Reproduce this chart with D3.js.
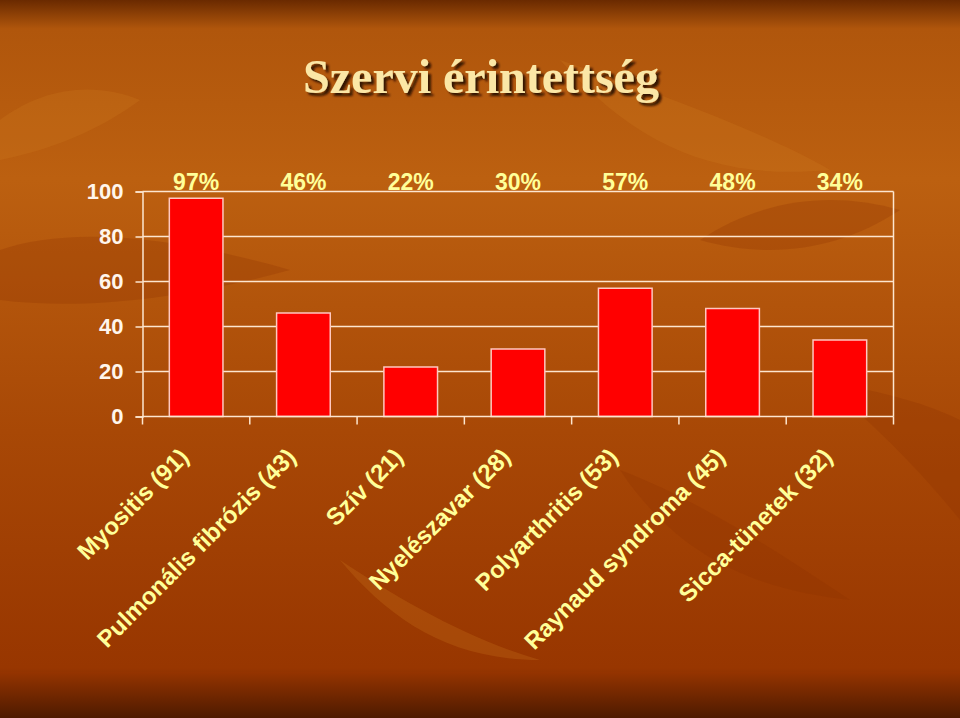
<!DOCTYPE html>
<html>
<head>
<meta charset="utf-8">
<script src="https://cdn.jsdelivr.net/npm/d3@7"></script>
<style>
  html, body { margin: 0; padding: 0; background: #a84400; }
  svg { display: block; }
</style>
</head>
<body>
<svg id="chart" width="960" height="718"></svg>
<script>
// data
var categories = ["Myositis (91)", "Pulmonális fibrózis (43)", "Szív (21)",
                  "Nyelészavar (28)", "Polyarthritis (53)",
                  "Raynaud syndroma (45)", "Sicca-tünetek (32)"];
var values = [97, 46, 22, 30, 57, 48, 34];
var percentLabels = ["97%", "46%", "22%", "30%", "57%", "48%", "34%"];
var yTicks = [0, 20, 40, 60, 80, 100];
var title = "Szervi érintettség";

var svg = d3.select("#chart");
var W = 960, H = 718;
var margin = {top: 191.5, right: 66.5, bottom: 301.5, left: 142.5};
var width = W - margin.left - margin.right;
var height = H - margin.top - margin.bottom;

// background
var defs = svg.append("defs");
var bg = defs.append("linearGradient").attr("id", "bg")
    .attr("x1", 0).attr("y1", 0).attr("x2", 0).attr("y2", 1);
bg.append("stop").attr("offset", "0").attr("stop-color", "#6a2a00");
bg.append("stop").attr("offset", "0.04").attr("stop-color", "#b0560c");
bg.append("stop").attr("offset", "0.25").attr("stop-color", "#bc6010");
bg.append("stop").attr("offset", "0.6").attr("stop-color", "#a84806");
bg.append("stop").attr("offset", "0.93").attr("stop-color", "#983600");
bg.append("stop").attr("offset", "1").attr("stop-color", "#5a1e00");
svg.append("rect").attr("width", W).attr("height", H).attr("fill", "url(#bg)");

var bottomBand = defs.append("linearGradient").attr("id", "band")
    .attr("x1", 0).attr("y1", 0).attr("x2", 0).attr("y2", 1);
bottomBand.append("stop").attr("offset", "0").attr("stop-color", "#953400");
bottomBand.append("stop").attr("offset", "1").attr("stop-color", "#4e1a00");
svg.append("rect").attr("y", 672).attr("width", W).attr("height", H - 672)
    .attr("fill", "url(#band)");

// a few soft leaf shapes for the texture
var leaves = [
  "M0,250 C60,230 150,230 290,270 C180,300 80,310 0,300 Z",
  "M560,60 C650,90 760,130 830,170 C720,180 640,150 560,60 Z",
  "M620,470 C700,500 790,560 850,600 C760,590 680,560 620,470 Z",
  "M340,560 C400,600 470,640 540,660 C450,660 390,620 340,560 Z",
  "M820,380 C870,420 920,470 960,520 L960,420 C920,400 870,390 820,380 Z",
  "M0,120 C40,90 90,80 140,100 C100,130 50,150 0,160 Z",
  "M700,240 C760,200 830,190 900,210 C840,250 770,260 700,240 Z"
];
svg.append("g").selectAll("path").data(leaves).enter().append("path")
    .attr("d", function(d) { return d; })
    .attr("fill", function(d, i) { return i % 2 ? "#d07a20" : "#8a3000"; })
    .attr("opacity", 0.25);

// title
var shadow = defs.append("filter").attr("id", "shadow")
    .attr("x", "-10%").attr("y", "-30%").attr("width", "120%").attr("height", "160%");
shadow.append("feDropShadow").attr("dx", 3).attr("dy", 3)
    .attr("stdDeviation", 1).attr("flood-color", "#2a1000").attr("flood-opacity", 0.9);
svg.append("text")
    .attr("x", 481).attr("y", 93)
    .attr("text-anchor", "middle")
    .attr("font-family", "'Liberation Serif', 'Times New Roman', serif")
    .attr("font-weight", "bold")
    .attr("font-size", 48)
    .attr("fill", "#fbe7a6")
    .attr("filter", "url(#shadow)")
    .text(title);

var g = svg.append("g")
    .attr("transform", "translate(" + margin.left + "," + margin.top + ")");

var x = d3.scaleBand().domain(categories).range([0, width]).paddingInner(0.5).paddingOuter(0.25);
var xb = d3.scaleBand().domain(categories).range([0, width]);
var y = d3.scaleLinear().domain([0, 100]).range([height, 0]);

var lineColor = "#fde6cf";

// gridlines
g.append("g").selectAll("line").data(yTicks.slice(1)).enter().append("line")
    .attr("x1", 0).attr("x2", width)
    .attr("y1", function(d) { return y(d); })
    .attr("y2", function(d) { return y(d); })
    .attr("stroke", lineColor).attr("stroke-width", 1.5);
g.append("line").attr("x1", width).attr("x2", width).attr("y1", 0).attr("y2", height)
    .attr("stroke", lineColor).attr("stroke-width", 1.5);

// bars
g.append("g").selectAll("rect").data(values).enter().append("rect")
    .attr("x", function(d, i) { return x(categories[i]); })
    .attr("y", function(d) { return y(d); })
    .attr("width", x.bandwidth())
    .attr("height", function(d) { return height - y(d); })
    .attr("fill", "#ff0000")
    .attr("stroke", "#ffc8c0").attr("stroke-width", 1.5);

// y axis
var yAxis = g.append("g")
    .call(d3.axisLeft(y).tickValues(yTicks).tickSize(7).tickPadding(12));
yAxis.select(".domain").attr("stroke", lineColor).attr("stroke-width", 1.5);
yAxis.selectAll(".tick line").attr("stroke", lineColor).attr("stroke-width", 1.5);
yAxis.selectAll("text")
    .attr("fill", "#fff6ec")
    .attr("font-family", "Arial, 'Liberation Sans', sans-serif")
    .attr("font-weight", "bold")
    .attr("font-size", 22);

// x axis line and boundary ticks
var boundaries = categories.map(function(c) { return xb(c); }).concat([width]);
g.append("line").attr("x1", 0).attr("x2", width).attr("y1", height).attr("y2", height)
    .attr("stroke", lineColor).attr("stroke-width", 1.5);
g.append("g").selectAll("line").data(boundaries).enter().append("line")
    .attr("x1", function(d) { return d; }).attr("x2", function(d) { return d; })
    .attr("y1", height).attr("y2", height + 8)
    .attr("stroke", lineColor).attr("stroke-width", 1.5);

// category labels
g.append("g").selectAll("text").data(categories).enter().append("text")
    .attr("transform", function(d) {
      return "translate(" + (xb(d) + xb.bandwidth() / 2 - 6) + "," + (height + 42) + ") rotate(-45)";
    })
    .attr("text-anchor", "end")
    .attr("font-family", "Arial, 'Liberation Sans', sans-serif")
    .attr("font-weight", "bold")
    .attr("font-size", 24)
    .attr("fill", "#ffff99")
    .text(function(d) { return d; });

// percent labels above the plot
g.append("g").selectAll("text").data(percentLabels).enter().append("text")
    .attr("x", function(d, i) { return xb(categories[i]) + xb.bandwidth() / 2; })
    .attr("y", -1.5)
    .attr("text-anchor", "middle")
    .attr("font-family", "Arial, 'Liberation Sans', sans-serif")
    .attr("font-weight", "bold")
    .attr("font-size", 23)
    .attr("fill", "#ffff99")
    .text(function(d) { return d; });
</script>
</body>
</html>
